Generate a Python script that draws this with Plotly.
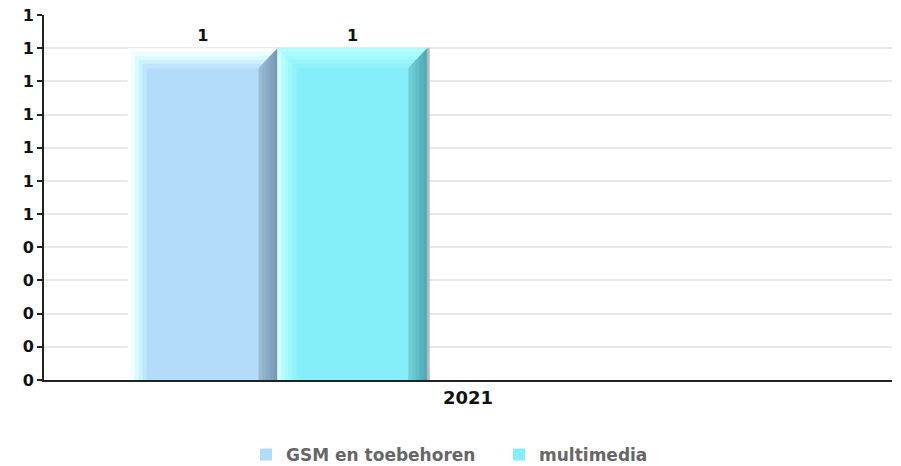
import plotly.graph_objects as go

# ---- data ----
categories = ["2021"]
series_names = ["GSM en toebehoren", "multimedia"]
gsm_values = [1]
multimedia_values = [1]
y_tick_values = [0, 0.1, 0.2, 0.3, 0.4, 0.5, 0.6, 0.7, 0.8, 0.9, 1.0, 1.1]
y_tick_labels = ["0", "0", "0", "0", "0", "1", "1", "1", "1", "1", "1", "1"]

# ---- style ----
series_values = [gsm_values, multimedia_values]
main_colors = ["#b3dcfa", "#86eefa"]
left_colors = [["#ffffff", "#f2feff", "#dcfbfe", "#c8f4fd", "#bce8fb"],
               ["#d0fdfd", "#b8fcfd", "#a8fbfc", "#9cf8fb", "#92f3fb"]]
top_colors = [["#ffffff", "#eefefe", "#dcfbfd", "#cdf2fc", "#c0e7fb"],
              ["#b4fcfd", "#aafbfc", "#a2f9fc", "#98f5fb", "#8ff1fa"]]
right_colors = [["#9abad2", "#90b2cb", "#88aac4", "#80a2bc", "#7a9bb5"],
                ["#72d0d9", "#68c6d0", "#60bcc6", "#58b2bd", "#52aab6"]]
legend_ids = ["legend", "legend2"]
legend_x = [0.2382, 0.5366]
bar_offsets = [-0.401, -0.2245]
bar_width = 0.1765
bevel_w = 0.022
bevel_h = 0.06
y_max = 1.1

fig = go.Figure()


def poly(xs, ys, color):
    fig.add_trace(go.Scatter(
        x=xs + [xs[0]], y=ys + [ys[0]], mode="lines", fill="toself",
        fillcolor=color, line=dict(width=0.6, color=color),
        hoverinfo="skip", showlegend=False))


for s, name in enumerate(series_names):
    vals = series_values[s]
    fig.add_trace(go.Bar(
        x=list(range(len(categories))), y=vals, name="<b>%s</b>" % name,
        offset=bar_offsets[s], width=bar_width,
        marker=dict(color=main_colors[s], line=dict(width=0)),
        texttemplate="<b>%{y:.0f}</b>", textposition="outside",
        textfont=dict(family="DejaVu Sans", size=16, color="#111111"),
        cliponaxis=False, legend=legend_ids[s]))
    for ci, v in enumerate(vals):
        x0 = ci + bar_offsets[s]
        x1 = x0 + bar_width
        n = len(left_colors[s])
        # left bevel
        for k in range(n):
            a = x0 + bevel_w * k / n
            b = x0 + bevel_w * (k + 1) / n
            poly([a, a, b, b], [0, v - bevel_h * k / n, v - bevel_h * (k + 1) / n, 0],
                 left_colors[s][k])
        # top bevel
        for k in range(n):
            ya = v - bevel_h * k / n
            yb = v - bevel_h * (k + 1) / n
            poly([x0 + bevel_w * k / n, x1 - bevel_w * k / n,
                  x1 - bevel_w * (k + 1) / n, x0 + bevel_w * (k + 1) / n],
                 [ya, ya, yb, yb], top_colors[s][k])
        # right bevel
        for k in range(n):
            a = x1 - bevel_w + bevel_w * k / n
            b = x1 - bevel_w + bevel_w * (k + 1) / n
            poly([a, a, b, b],
                 [0, v - bevel_h + bevel_h * k / n, v - bevel_h + bevel_h * (k + 1) / n, 0],
                 right_colors[s][k])
        # thin shadow on right edge
        poly([x1, x1, x1 + 0.0025, x1 + 0.0025], [0, v, v, 0], "#b8b8b8")

legend_style = dict(orientation="h", xanchor="left", y=-0.205, yanchor="middle",
                    font=dict(family="DejaVu Sans", size=17, color="#666666"),
                    itemwidth=30, bgcolor="rgba(0,0,0,0)")
fig.update_layout(
    width=901, height=466,
    margin=dict(l=44, r=9, t=15, b=86, autoexpand=False),
    paper_bgcolor="white", plot_bgcolor="white",
    barmode="overlay",
    showlegend=True,
    legend=dict(x=legend_x[0], **legend_style),
    legend2=dict(x=legend_x[1], **legend_style),
    font=dict(family="DejaVu Sans"),
)
fig.update_xaxes(
    range=[-0.5, 0.5], tickmode="array", tickvals=list(range(len(categories))),
    ticktext=["<b>%s</b>" % c for c in categories],
    tickfont=dict(family="DejaVu Sans", size=18, color="#111111"),
    showline=True, linecolor="#222222", linewidth=2, showgrid=False,
    ticks="", zeroline=False, layer="below traces", fixedrange=True,
    automargin=False)
fig.update_yaxes(
    range=[0, y_max], tickmode="array", tickvals=y_tick_values,
    ticktext=["<b>%s</b>" % t for t in y_tick_labels],
    tickfont=dict(family="DejaVu Sans", size=16, color="#111111"),
    showline=True, linecolor="#222222", linewidth=2,
    ticks="outside", ticklen=5, tickwidth=2, tickcolor="#222222",
    showgrid=True, gridcolor="#e8e8e8", gridwidth=2,
    zeroline=False, layer="below traces", fixedrange=True,
    automargin=False)

fig.write_html("out.html", config={"displayModeBar": False},
               post_script="document.body.style.margin='0';document.body.style.overflow='hidden';")
